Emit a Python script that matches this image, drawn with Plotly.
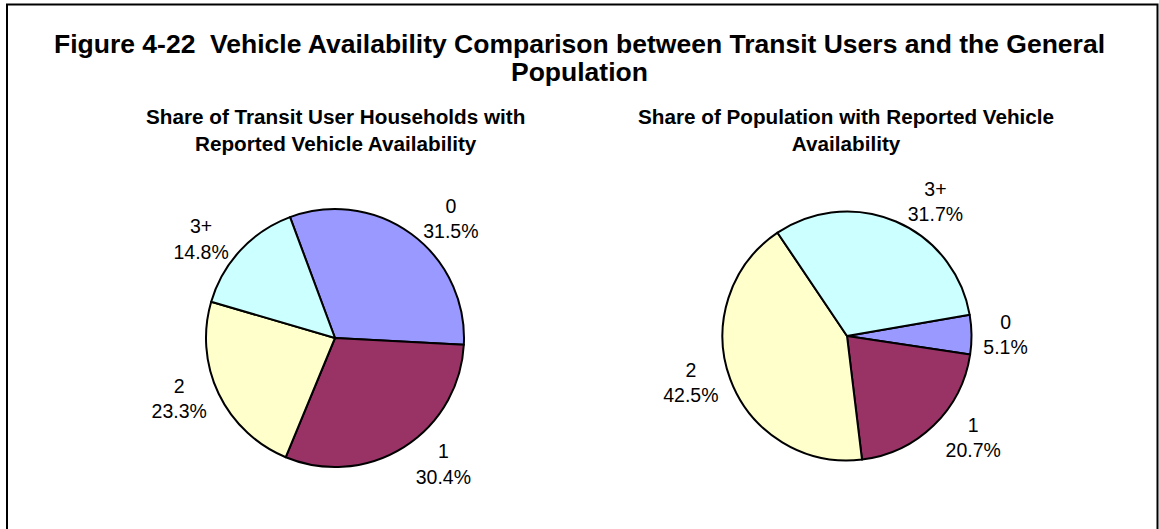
import plotly.graph_objects as go

categories = ["0", "1", "2", "3+"]
transit_users = [31.5, 30.4, 23.3, 14.8]
population = [5.1, 20.7, 42.5, 31.7]
colors = ["#9999FF", "#993366", "#FFFFCC", "#CCFFFF"]

title_lines = ["Figure 4-22  Vehicle Availability Comparison between Transit Users and the General",
               "Population"]
sub1 = "Share of Transit User Households with<br>Reported Vehicle Availability"
sub2 = "Share of Population with Reported Vehicle<br>Availability"

W, H = 1159, 529
font_family = "Arial, Liberation Sans, sans-serif"

fig = go.Figure()

common = dict(
    labels=categories,
    sort=False,
    direction="clockwise",
    marker=dict(colors=colors, line=dict(color="black", width=2)),
    texttemplate="%{label}<br>%{percent:.1%}",
    textposition="outside",
    outsidetextfont=dict(family=font_family, size=19.5, color="black"),
    showlegend=False,
    hoverinfo="label+percent",
)

fig.add_trace(go.Pie(
    values=transit_users,
    rotation=-20.4,
    domain=dict(x=[206 / W, 464 / W], y=[62 / H, 320 / H]),
    **common,
))
fig.add_trace(go.Pie(
    values=population,
    rotation=80.2,
    domain=dict(x=[722.5 / W, 971.5 / W], y=[68.5 / H, 317.5 / H]),
    **common,
))

annotations = [
    dict(text="<b>%s</b>" % title_lines[0], x=0.5, y=1 - 43.5 / H, font=dict(size=26.5)),
    dict(text="<b>%s</b>" % title_lines[1], x=0.5, y=1 - 71.5 / H, font=dict(size=26.5)),
    dict(text="<b>%s</b>" % sub1, x=335 / W, y=1 - 130 / H, font=dict(size=20.7)),
    dict(text="<b>%s</b>" % sub2, x=846 / W, y=1 - 130 / H, font=dict(size=20.7)),
]
for a in annotations:
    a.update(xref="paper", yref="paper", showarrow=False, xanchor="center", yanchor="middle")
    a["font"].update(family=font_family, color="black")

fig.update_layout(
    width=W, height=H,
    margin=dict(l=0, r=0, t=0, b=0),
    paper_bgcolor="white",
    plot_bgcolor="white",
    annotations=annotations,
    shapes=[dict(type="rect", xref="paper", yref="paper",
                 x0=7 / W, x1=1157.5 / W, y0=-0.1, y1=1 - 4.5 / H,
                 line=dict(color="black", width=2), fillcolor="rgba(0,0,0,0)")],
)

fig.write_html("out.html", config={"displayModeBar": False},
               post_script="document.body.style.margin='0';document.body.style.overflow='hidden';")
